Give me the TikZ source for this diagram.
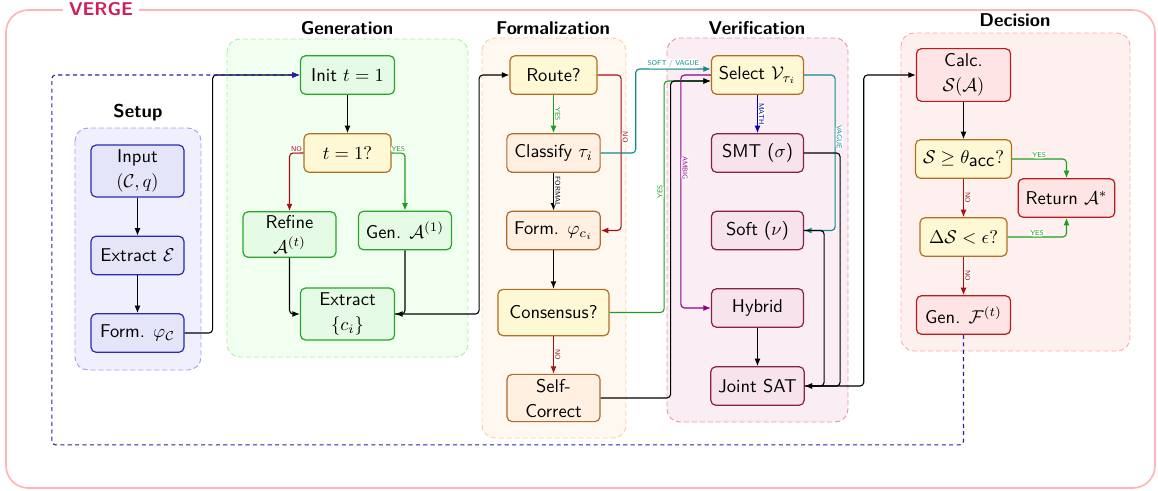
\documentclass[tikz,border=0pt]{standalone}
\usepackage{fontspec}
\usepackage{xcolor}
\definecolor{verge-frame}{HTML}{FFB5B5}
\definecolor{verge-title}{HTML}{D01F5C}
\definecolor{setup-group}{HTML}{A0A0F0}
\definecolor{setup-back}{HTML}{EFEFFD}
\definecolor{setup-line}{HTML}{2B2BAF}
\definecolor{setup-fill}{HTML}{E5E5FA}
\definecolor{gen-group}{HTML}{A6F0A6}
\definecolor{gen-back}{HTML}{F0FFF0}
\definecolor{gen-line}{HTML}{2AA52A}
\definecolor{gen-fill}{HTML}{E6FBE6}
\definecolor{form-group}{HTML}{FFCC99}
\definecolor{form-back}{HTML}{FFF8F0}
\definecolor{form-line}{HTML}{B06A2A}
\definecolor{form-fill}{HTML}{FFF0E2}
\definecolor{ver-group}{HTML}{E892B0}
\definecolor{ver-back}{HTML}{FAEEF4}
\definecolor{ver-line}{HTML}{8A1F4B}
\definecolor{ver-fill}{HTML}{F6E3EC}
\definecolor{dec-group}{HTML}{FFAAAA}
\definecolor{dec-back}{HTML}{FFF0F0}
\definecolor{dec-line}{HTML}{B81C1C}
\definecolor{dec-fill}{HTML}{FFE4E6}
\definecolor{ask-line}{HTML}{B07020}
\definecolor{ask-fill}{HTML}{FFF8D5}
\definecolor{arrow-yes}{HTML}{1E9E1E}
\definecolor{arrow-no}{HTML}{A51010}
\definecolor{arrow-teal}{HTML}{108A8A}
\definecolor{arrow-blue}{HTML}{0000B0}
\definecolor{arrow-purple}{HTML}{8B008B}
\definecolor{arrow-loop}{HTML}{2020B0}
\usepackage{tikz}
\usetikzlibrary{arrows.meta,calc}

\tikzset{
    box/.style={draw, rounded corners=2.7pt, line width=0.65pt,
        minimum width=50.2pt, minimum height=20.8pt, inner xsep=4pt, inner ysep=2pt,
        align=center, font=\sffamily\fontsize{10}{13.5}\selectfont},
    setupbox/.style={box, draw=setup-line, fill=setup-fill},
    genbox/.style={box, draw=gen-line, fill=gen-fill},
    formbox/.style={box, draw=form-line, fill=form-fill},
    verbox/.style={box, draw=ver-line, fill=ver-fill},
    decbox/.style={box, draw=dec-line, fill=dec-fill},
    askbox/.style={box, draw=ask-line, fill=ask-fill, minimum width=47pt},
    group/.style={dash pattern=on 2.7pt off 1.6pt, line width=0.5pt, rounded corners=7pt},
    grouptitle/.style={font=\sffamily\bfseries},
    flow/.style={-{Latex[length=4pt,width=3.2pt]}, line width=0.6pt, rounded corners=2pt},
    lbl/.style={font=\sffamily\fontsize{3.8}{4}\selectfont, fill=white, inner sep=0.6pt},
}

\begin{document}
\begin{tikzpicture}[x=0.54pt, y=-0.54pt]

    \useasboundingbox (0,0) rectangle (1158,490);

    % Frame
    \draw[verge-frame, line width=0.9pt, rounded corners=12pt] (6,10) rectangle (1155,488);
    \node[fill=white, text=verge-title, font=\sffamily\bfseries, inner xsep=3pt] (verge) at (101,9) {VERGE};

    % Groups
    \draw[group, draw=setup-group, fill=setup-back] (75,128) rectangle (201,370);
    \draw[group, draw=gen-group, fill=gen-back] (227,39) rectangle (468,357);
    \draw[group, draw=form-group, fill=form-back] (482,38) rectangle (626,438);
    \draw[group, draw=ver-group, fill=ver-back] (667,38) rectangle (848,422);
    \draw[group, draw=dec-group, fill=dec-back] (901,33) rectangle (1130,351);

    \node[grouptitle] (setupT) at (138,113) {Setup};
    \node[grouptitle] (genT) at (347,28) {Generation};
    \node[grouptitle] (formT) at (553,28) {Formalization};
    \node[grouptitle] (verT) at (757,28) {Verification};
    \node[grouptitle] (decT) at (1015,20) {Decision};

    % Setup
    \node[setupbox, minimum height=28pt] (input) at (137.5,171) {Input\\$(\mathcal{C},q)$};
    \node[setupbox] (extE) at (137.5,255.5) {Extract $\mathcal{E}$};
    \node[setupbox] (formC) at (137.5,333) {Form. $\varphi_{\mathcal{C}}$};

    % Generation
    \node[genbox, minimum width=50.8pt] (init) at (347.5,75) {Init $t=1$};
    \node[askbox] (tq) at (347.5,153) {$t=1?$};
    \node[genbox] (refine) at (289.5,234.5) {Refine\\$\mathcal{A}^{(t)}$};
    \node[genbox] (genA) at (405,230.5) {Gen. $\mathcal{A}^{(1)}$};
    \node[genbox, minimum width=50.8pt, minimum height=28pt] (extC) at (347.5,314) {Extract\\$\{c_i\}$};

    % Formalization
    \node[askbox] (route) at (553.5,75) {Route?};
    \node[formbox] (classify) at (553.5,153) {Classify $\tau_i$};
    \node[formbox] (formci) at (553.5,230.5) {Form. $\varphi_{c_i}$};
    \node[askbox, minimum width=60pt, minimum height=25pt] (consensus) at (553.5,312.5) {Consensus?};
    \node[formbox, minimum height=25.5pt] (selfc) at (553.5,398) {Self-\\Correct};

    % Verification
    \node[askbox, minimum width=47.5pt] (select) at (757.5,75) {Select $\mathcal{V}_{\tau_i}$};
    \node[verbox, minimum width=49.7pt] (smt) at (757.5,153) {SMT ($\sigma$)};
    \node[verbox, minimum width=49.7pt] (soft) at (757.5,230.5) {Soft ($\nu$)};
    \node[verbox, minimum width=49.7pt] (hybrid) at (757.5,308) {Hybrid};
    \node[verbox, minimum width=49.7pt] (joint) at (757.5,386) {Joint SAT};

    % Decision
    \node[decbox, minimum width=50.8pt, minimum height=28.5pt] (calc) at (963.5,75) {Calc.\\$\mathcal{S}(\mathcal{A})$};
    \node[askbox] (sgeq) at (963.5,159) {$\mathcal{S}\geq\theta_{\textsf{acc}}?$};
    \node[decbox] (ret) at (1066.5,198) {Return $\mathcal{A}^{*}$};
    \node[askbox] (dsl) at (963.5,237) {$\Delta\mathcal{S}<\epsilon?$};
    \node[decbox, minimum width=50.8pt] (genF) at (963.5,315) {Gen. $\mathcal{F}^{(t)}$};

    % Setup flow
    \draw[flow] (input) -- (extE);
    \draw[flow] (extE) -- (formC);
    \draw[flow] (formC.east) -- ++(28,0) |- (init.west);

    % Generation flow
    \draw[flow] (init) -- (tq);
    \draw[flow, arrow-no] (tq.west) -| node[lbl, pos=0.25, above, text=arrow-no] {NO} (refine.north);
    \draw[flow, arrow-yes] (tq.east) -| node[lbl, pos=0.25, above, text=arrow-yes] {YES} (genA.north);
    \draw[flow] (refine.south) |- (extC.west);
    \draw[flow] (genA.south) |- (extC.east);
    \draw[flow] (extC.east) -- ++(84,0) |- (route.west);

    % Formalization flow
    \draw[flow, arrow-yes] (route) -- node[lbl, sloped, above, text=arrow-yes] {YES} (classify);
    \draw[flow, arrow-no] (route.east) -- ++(23.5,0) |- node[lbl, sloped, above, pos=0.2, text=arrow-no] {NO} (formci.east);
    \draw[flow] (classify) -- node[lbl, sloped, above] {FORMAL} (formci);
    \draw[flow] (formci) -- (consensus);
    \draw[flow, arrow-no] (consensus) -- node[lbl, sloped, above, text=arrow-no] {NO} (selfc);
    \draw[flow, arrow-teal] (classify.east) -- ++(35,0) |- node[lbl, pos=0.75, above, text=arrow-teal] {SOFT / VAGUE} ($(select.west)+(0,-6)$);
    \draw[flow, arrow-yes] (consensus.east) -- ++(54.5,0) |- node[lbl, sloped, above, pos=0.26, text=arrow-yes] {YES} ($(select.west)+(0,6)$);
    \draw[flow] (selfc.east) -- ++(70,0) |- ($(select.west)+(0,6)$);

    % Verification flow
    \draw[flow, arrow-blue] (select) -- node[lbl, sloped, above, text=arrow-blue] {MATH} (smt);
    \draw[flow, arrow-teal] (select.east) -- ++(31,0) |- node[lbl, sloped, above, pos=0.2, text=arrow-teal] {VAGUE} (soft.east);
    \draw[flow, arrow-purple] (select.west) -- ++(-30,0) |- node[lbl, sloped, above, pos=0.2, text=arrow-purple] {AMBIG} (hybrid.west);
    \draw[flow] (smt.east) -- ++(36,0) |- (joint.east);
    \draw[flow] (soft.east) -- ++(20,0) |- (joint.east);
    \draw[flow] (hybrid) -- (joint);
    \draw[flow] (joint.east) -- ++(59,0) |- (calc.west);

    % Decision flow
    \draw[flow] (calc) -- (sgeq);
    \draw[flow, arrow-yes] (sgeq.east) -| node[lbl, pos=0.25, above, text=arrow-yes] {YES} (ret.north);
    \draw[flow, arrow-no] (sgeq) -- node[lbl, sloped, above, text=arrow-no] {NO} (dsl);
    \draw[flow, arrow-yes] (dsl.east) -| node[lbl, pos=0.25, above, text=arrow-yes] {YES} (ret.south);
    \draw[flow, arrow-no] (dsl) -- node[lbl, sloped, above, text=arrow-no] {NO} (genF);

    % Loop back
    \draw[flow, arrow-loop, dash pattern=on 2.2pt off 1.8pt] (genF.south) -- ++(0,110) -| ($(init.west)+(-248,0)$) -- (init.west);

\end{tikzpicture}
\end{document}
